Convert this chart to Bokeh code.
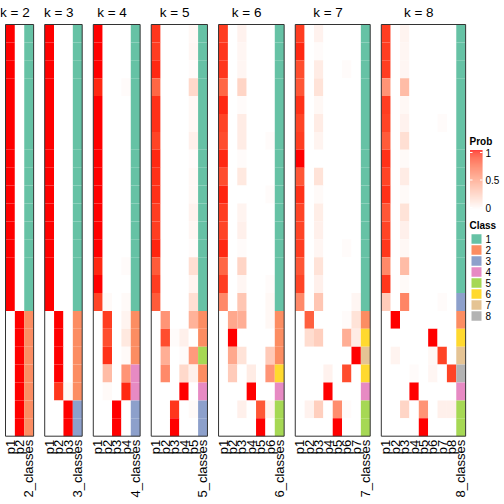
from math import pi
import numpy as np
from bokeh.plotting import figure
from bokeh.models import Range1d, ColumnDataSource, LinearColorMapper
from bokeh.transform import transform
from bokeh.core.properties import value
from bokeh.embed import file_html
from bokeh.resources import INLINE

# ---------------- data ----------------
k_values = [2, 3, 4, 5, 6, 7, 8]
class_labels = ["1", "2", "3", "4", "5", "6", "7", "8"]
class_colors = ["#66C2A5", "#FC8D62", "#8DA0CB", "#E78AC3", "#A6D854", "#FFD92F", "#E5C494", "#B3B3B3"]

prob_k2 = [
    [1, 0], [1, 0], [1, 0], [1, 0], [1, 0], [1, 0], [1, 0], [1, 0],
    [1, 0], [1, 0], [1, 0], [1, 0], [1, 0], [1, 0], [1, 0], [1, 0],
    [0, 1], [0, 1], [0, 1], [0, 1], [0, 1], [0, 1], [0, 1],
]
class_k2 = [1, 1, 1, 1, 1, 1, 1, 1, 1, 1, 1, 1, 1, 1, 1, 1, 2, 2, 2, 2, 2, 2, 2]

prob_k3 = [
    [1, 0, 0], [1, 0, 0], [1, 0, 0], [1, 0, 0], [1, 0, 0], [1, 0, 0], [1, 0, 0], [1, 0, 0],
    [1, 0, 0], [1, 0, 0], [1, 0, 0], [1, 0, 0], [1, 0, 0], [1, 0, 0], [1, 0, 0], [1, 0, 0],
    [0, 1, 0], [0, 1, 0], [0, 1, 0], [0, 1, 0], [0, 0.92, 0.04], [0, 0, 1], [0, 0, 1],
]
class_k3 = [1, 1, 1, 1, 1, 1, 1, 1, 1, 1, 1, 1, 1, 1, 1, 1, 2, 2, 2, 2, 2, 3, 3]

prob_k4 = [
    [1, 0, 0, 0], [1, 0, 0, 0], [1, 0, 0, 0], [0.95, 0, 0, 0.02],
    [1, 0, 0, 0], [1, 0, 0, 0], [1, 0, 0, 0], [1, 0, 0, 0],
    [1, 0, 0, 0], [1, 0, 0, 0], [1, 0, 0, 0], [1, 0, 0, 0],
    [1, 0, 0, 0], [0.95, 0, 0, 0.02], [1, 0, 0, 0], [0.88, 0.03, 0, 0.03],
    [0, 0.9, 0, 0.06], [0, 0.85, 0, 0.12], [0, 0.93, 0, 0.03], [0, 0.35, 0, 0.55],
    [0, 0.03, 0, 0.95], [0, 0, 1, 0], [0, 0, 1, 0],
]
class_k4 = [1, 1, 1, 1, 1, 1, 1, 1, 1, 1, 1, 1, 1, 1, 1, 1, 2, 2, 2, 4, 4, 3, 3]

prob_k5 = [
    [0.92, 0, 0, 0, 0.04], [0.9, 0, 0, 0, 0.05], [0.95, 0, 0, 0, 0.02], [0.75, 0, 0, 0, 0.2],
    [0.93, 0, 0, 0, 0.04], [0.93, 0, 0, 0, 0.04], [0.88, 0, 0, 0, 0.08], [0.95, 0, 0, 0, 0.02],
    [0.93, 0, 0, 0, 0.04], [0.93, 0, 0, 0, 0.04], [0.9, 0, 0, 0, 0.07], [0.9, 0, 0, 0, 0.05],
    [0.96, 0, 0, 0, 0.02], [0.8, 0, 0, 0, 0.17], [0.9, 0, 0, 0, 0.06], [0.8, 0, 0, 0, 0.17],
    [0, 0.55, 0, 0, 0.4], [0, 0.85, 0.02, 0.08, 0], [0, 0.42, 0, 0.02, 0.52], [0, 0.6, 0, 0.2, 0.08],
    [0, 0, 0, 1, 0], [0, 0, 0.92, 0, 0.03], [0, 0, 1, 0, 0],
]
class_k5 = [1, 1, 1, 1, 1, 1, 1, 1, 1, 1, 1, 1, 1, 1, 1, 1, 2, 2, 5, 2, 4, 3, 3]

prob_k6 = [
    [0.9, 0, 0.07, 0, 0, 0], [0.92, 0, 0.05, 0, 0, 0], [0.92, 0, 0.05, 0, 0, 0], [0.75, 0, 0.22, 0, 0, 0],
    [0.95, 0, 0.02, 0, 0, 0], [0.88, 0, 0.1, 0, 0, 0], [0.85, 0, 0.1, 0, 0, 0.02], [0.95, 0, 0.02, 0, 0, 0],
    [0.85, 0, 0.12, 0, 0, 0], [0.96, 0, 0, 0, 0, 0.02], [0.9, 0, 0.06, 0, 0, 0], [0.88, 0, 0.08, 0, 0, 0],
    [0.95, 0, 0.02, 0, 0, 0], [0.75, 0, 0.22, 0, 0, 0], [0.9, 0, 0.05, 0, 0, 0.02], [0.6, 0, 0.3, 0, 0, 0.04],
    [0, 0.45, 0.42, 0, 0, 0.04], [0, 1, 0, 0, 0, 0], [0, 0.45, 0.15, 0, 0, 0.28], [0, 0.27, 0, 0.1, 0, 0.55],
    [0, 0, 0, 1, 0, 0], [0, 0, 0.08, 0, 0.82, 0.07], [0, 0, 0, 0, 1, 0],
]
class_k6 = [1, 1, 1, 1, 1, 1, 1, 1, 1, 1, 1, 1, 1, 1, 1, 1, 2, 2, 2, 6, 4, 5, 5]

prob_k7 = [
    [0.9, 0, 0.07, 0, 0, 0, 0], [0.95, 0, 0.02, 0, 0, 0, 0], [0.85, 0, 0.1, 0, 0, 0.02, 0], [0.82, 0, 0.15, 0, 0, 0, 0],
    [0.93, 0, 0.04, 0, 0, 0, 0], [0.88, 0, 0.1, 0, 0, 0, 0], [0.9, 0, 0.06, 0, 0, 0, 0], [1, 0, 0, 0, 0, 0, 0],
    [0.82, 0, 0.15, 0, 0, 0, 0], [0.93, 0, 0.03, 0, 0, 0, 0], [0.88, 0, 0.09, 0, 0, 0, 0], [0.88, 0, 0.08, 0, 0, 0, 0],
    [0.9, 0, 0.05, 0, 0, 0.02, 0], [0.82, 0, 0.15, 0, 0, 0, 0], [0.88, 0, 0.08, 0, 0, 0, 0], [0.6, 0, 0.3, 0, 0, 0, 0.05],
    [0, 0.78, 0, 0, 0, 0.02, 0.15], [0, 0.18, 0.25, 0, 0, 0.42, 0.1], [0, 0, 0, 0, 0, 0, 1], [0, 0, 0, 0.07, 0, 0.85, 0],
    [0, 0, 0, 1, 0, 0, 0], [0, 0.07, 0.25, 0, 0.58, 0.02, 0], [0, 0, 0, 0, 1, 0, 0],
]
class_k7 = [1, 1, 1, 1, 1, 1, 1, 1, 1, 1, 1, 1, 1, 1, 1, 1, 2, 6, 7, 6, 4, 5, 5]

prob_k8 = [
    [0.9, 0, 0.06, 0, 0, 0, 0, 0], [0.9, 0, 0.05, 0, 0, 0, 0, 0], [0.9, 0, 0.05, 0, 0, 0, 0, 0], [0.55, 0, 0.35, 0, 0, 0, 0, 0],
    [0.9, 0, 0.04, 0, 0, 0, 0, 0], [0.88, 0, 0.07, 0, 0, 0, 0.02, 0], [0.8, 0, 0.17, 0, 0, 0, 0, 0], [0.93, 0, 0.03, 0, 0, 0, 0, 0],
    [0.88, 0, 0.1, 0, 0, 0, 0, 0], [0.93, 0, 0.03, 0, 0, 0, 0, 0], [0.82, 0, 0.15, 0, 0, 0, 0, 0], [0.88, 0, 0.08, 0, 0, 0, 0, 0],
    [0.92, 0, 0.04, 0, 0, 0, 0, 0], [0.6, 0, 0.35, 0, 0, 0, 0, 0], [0.92, 0, 0.03, 0, 0, 0, 0, 0], [0.27, 0, 0.62, 0, 0, 0, 0.02, 0],
    [0, 1, 0, 0, 0, 0, 0, 0], [0, 0, 0, 0, 0, 1, 0, 0], [0, 0.06, 0, 0, 0, 0.04, 0.88, 0], [0, 0, 0, 0.02, 0, 0.05, 0, 0.88],
    [0, 0, 0, 1, 0, 0, 0, 0], [0, 0, 0.22, 0, 0.55, 0, 0.08, 0.08], [0, 0, 0, 0, 1, 0, 0, 0],
]
class_k8 = [1, 1, 1, 1, 1, 1, 1, 1, 1, 1, 1, 1, 1, 1, 1, 3, 2, 6, 7, 8, 4, 5, 5]

probs = {2: prob_k2, 3: prob_k3, 4: prob_k4, 5: prob_k5, 6: prob_k6, 7: prob_k7, 8: prob_k8}
classes = {2: class_k2, 3: class_k3, 4: class_k4, 5: class_k5, 6: class_k6, 7: class_k7, 8: class_k8}

legend_ticks = [0, 0.5, 1]
legend_tick_labels = ["0", "0.5", "1"]

# ---------------- colour ramp (white -> red, interpolated in LAB) ----------------
def _lin(c):
    return c / 12.92 if c <= 0.04045 else ((c + 0.055) / 1.055) ** 2.4

def _gam(c):
    c = min(max(c, 0.0), 1.0)
    return 12.92 * c if c <= 0.0031308 else 1.055 * c ** (1 / 2.4) - 0.055

WN = (0.95047, 1.0, 1.08883)

def rgb2lab(r, g, b):
    r, g, b = _lin(r), _lin(g), _lin(b)
    X = 0.4124 * r + 0.3576 * g + 0.1805 * b
    Y = 0.2126 * r + 0.7152 * g + 0.0722 * b
    Z = 0.0193 * r + 0.1192 * g + 0.9505 * b
    def f(t):
        return t ** (1 / 3) if t > (6 / 29) ** 3 else t / (3 * (6 / 29) ** 2) + 4 / 29
    fx, fy, fz = f(X / WN[0]), f(Y / WN[1]), f(Z / WN[2])
    return 116 * fy - 16, 500 * (fx - fy), 200 * (fy - fz)

def lab2hex(L, a, b):
    fy = (L + 16) / 116
    fx = fy + a / 500
    fz = fy - b / 200
    def finv(t):
        return t ** 3 if t > 6 / 29 else 3 * (6 / 29) ** 2 * (t - 4 / 29)
    X, Y, Z = WN[0] * finv(fx), WN[1] * finv(fy), WN[2] * finv(fz)
    r = 3.2406 * X - 1.5372 * Y - 0.4986 * Z
    g = -0.9689 * X + 1.8758 * Y + 0.0415 * Z
    bb = 0.0557 * X - 0.2040 * Y + 1.0570 * Z
    return "#%02x%02x%02x" % tuple(int(round(_gam(c) * 255)) for c in (r, g, bb))

lab_w = rgb2lab(1, 1, 1)
lab_r = rgb2lab(1, 0, 0)
palette = [lab2hex(*[lw + t * (lr - lw) for lw, lr in zip(lab_w, lab_r)]) for t in np.linspace(0, 1, 256)]
mapper = LinearColorMapper(palette=palette, low=0, high=1)

# ---------------- layout (data units = picture pixels) ----------------
X0, CW, GAP = 5.0, 9.37, 11.1
TOP, RH = 24.0, 17.9
FONT = value("Liberation Sans")

p = figure(width=504, height=504, x_range=Range1d(0, 504), y_range=Range1d(504, 0),
           x_axis_type=None, y_axis_type=None, toolbar_location=None,
           output_backend="svg", min_border=0, outline_line_color=None)
p.grid.visible = False

cx, cy, cv = [], [], []
ax, ay, ac = [], [], []
bx, bw = [], []
tx, tt = [], []
lx, lt = [], []
left = X0
for k in k_values:
    ncol = len(probs[k][0])
    for i, row in enumerate(probs[k]):
        for j, v in enumerate(row):
            cx.append(left + (j + 0.5) * CW)
            cy.append(TOP + (i + 0.5) * RH)
            cv.append(v)
    for i, c in enumerate(classes[k]):
        ax.append(left + (ncol + 0.5) * CW)
        ay.append(TOP + (i + 0.5) * RH)
        ac.append(class_colors[c - 1])
    bx.append(left + (ncol + 1) * CW / 2)
    bw.append((ncol + 1) * CW)
    tx.append(left + ncol * CW / 2)
    tt.append("k = %d" % k)
    for j in range(ncol):
        lx.append(left + (j + 0.5) * CW)
        lt.append("p%d" % (j + 1))
    lx.append(left + (ncol + 0.5) * CW)
    lt.append("%d_classes" % k)
    left += (ncol + 1) * CW + GAP

n_rows = len(prob_k2)
bottom = TOP + n_rows * RH

cells = ColumnDataSource(dict(x=cx, y=cy, v=cv))
p.rect("x", "y", width=CW, height=RH, source=cells,
       fill_color=transform("v", mapper), line_color=None)
p.rect(ax, ay, width=CW, height=RH, fill_color=ac, line_color=None)
p.rect(bx, [(TOP + bottom) / 2] * len(bx), width=bw, height=bottom - TOP,
       fill_color=None, line_color="#333333", line_width=1)

p.text(tx, [11.5] * len(tx), text=tt, text_font=FONT, text_font_size="13.5px",
       text_align="center", text_baseline="middle", text_color="black")
p.text(lx, [bottom + 3.5] * len(lx), text=lt, angle=pi / 2, text_font=FONT,
       text_font_size="13px", text_align="right", text_baseline="middle", text_color="black")

# ---------------- legends ----------------
LX = 469.5
LW = 12.5
bar_top, bar_bot = 149.5, 209.5
steps = np.linspace(0, 1, 120)
seg_h = (bar_bot - bar_top) / len(steps)
gy = [bar_bot - (s + 0.5) * seg_h for s in range(len(steps))]
grad = ColumnDataSource(dict(x=[LX + LW / 2] * len(steps), y=gy, v=list(steps)))
p.rect("x", "y", width=LW, height=seg_h * 1.05, source=grad,
       fill_color=transform("v", mapper), line_color=None)
tick_y = [bar_bot - 2.5 - t * (bar_bot - bar_top - 5) for t in legend_ticks]
p.segment([LX] * 3, tick_y, [LX + 2.5] * 3, tick_y, line_color="white", line_width=1)
p.segment([LX + LW - 2.5] * 3, tick_y, [LX + LW] * 3, tick_y, line_color="white", line_width=1)
p.text([LX + LW + 3] * 3, tick_y, text=legend_tick_labels, text_font=FONT, text_font_size="10px",
       text_align="left", text_baseline="middle", text_color="black")
p.text([LX - 0.5], [141], text=["Prob"], text_font=FONT, text_font_size="10px",
       text_font_style="bold", text_align="left", text_baseline="middle", text_color="black")

p.text([LX - 0.5], [225], text=["Class"], text_font=FONT, text_font_size="10px",
       text_font_style="bold", text_align="left", text_baseline="middle", text_color="black")
ly = [238.5 + 11 * i for i in range(len(class_labels))]
p.rect([LX + 6.5] * len(ly), ly, width=10, height=9.5, fill_color=class_colors, line_color=None)
p.text([LX + LW + 3] * len(ly), ly, text=class_labels, text_font=FONT, text_font_size="10px",
       text_align="left", text_baseline="middle", text_color="black")

open("out.html", "w").write(file_html(p, INLINE))
